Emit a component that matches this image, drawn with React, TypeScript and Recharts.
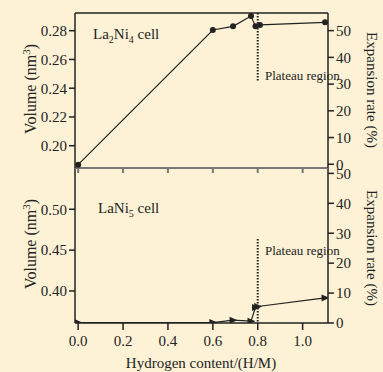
import React from "react";
import { LineChart, Line, XAxis, YAxis, ReferenceLine } from "recharts";

// hydrogen content (H/M) and cell volume (nm^3)
const hydrogenLa2Ni4 = [0, 0.6, 0.69, 0.77, 0.79, 0.81, 1.1];
const volumeLa2Ni4 = [0.1868, 0.2805, 0.283, 0.2902, 0.283, 0.284, 0.2858];

const hydrogenLaNi5 = [0, 0.6, 0.69, 0.77, 0.79, 0.8, 1.1];
const volumeLaNi5 = [0.3612, 0.3613, 0.3643, 0.363, 0.3797, 0.381, 0.3915];

const xTicks = [0, 0.2, 0.4, 0.6, 0.8, 1.0];
const topVolumeTicks = [0.2, 0.22, 0.24, 0.26, 0.28];
const bottomVolumeTicks = [0.4, 0.45, 0.5];
const rateTicks = [0, 10, 20, 30, 40, 50];

const plateauX = 0.8;

const la2ni4Data = hydrogenLa2Ni4.map((h, i) => ({ h, v: volumeLa2Ni4[i] }));
const lani5Data = hydrogenLaNi5.map((h, i) => ({ h, v: volumeLaNi5[i] }));

const INK = "#222";
const BG = "#fdf2d6";
const FONT = "'Liberation Serif', 'DejaVu Serif', serif";

const X_DOMAIN = [-0.014, 1.113];
const TOP_VOL = [0.1845, 0.2923];
const TOP_RATE = [-1.4, 56.6];
const BOT_VOL = [0.3608, 0.5505];
const BOT_RATE = [0, 51.8];

const tickStyle = { fill: INK, fontSize: 15, fontFamily: FONT };

const Circle = (props: any) => {
  const { cx, cy, index } = props;
  return <circle key={`c-${index}`} cx={cx} cy={cy} r={3} fill={INK} />;
};

const Arrow = (props: any) => {
  const { cx, cy, index } = props;
  return (
    <polygon
      key={`t-${index}`}
      points={`${cx - 3.5},${cy - 3.5} ${cx + 4.5},${cy} ${cx - 3.5},${cy + 3.5}`}
      fill={INK}
    />
  );
};

const abs = (left: number, top: number, extra: any = {}) => ({
  position: "absolute" as const,
  left,
  top,
  fontFamily: FONT,
  color: INK,
  whiteSpace: "nowrap" as const,
  lineHeight: 1,
  ...extra,
});

export default function App() {
  return (
    <div
      style={{
        position: "absolute",
        left: 0,
        top: 0,
        width: 383,
        height: 372,
        background: BG,
        overflow: "hidden",
      }}
    >
      {/* bottom panel: LaNi5 */}
      <div style={{ position: "absolute", left: 0, top: 0 }}>
        <LineChart
          width={383}
          height={372}
          data={lani5Data}
          margin={{ top: 168, right: 15, bottom: 0, left: 20 }}
        >
          <XAxis
            dataKey="h"
            type="number"
            domain={X_DOMAIN}
            allowDataOverflow
            ticks={xTicks}
            tickFormatter={(v: number) => v.toFixed(1)}
            tick={tickStyle}
            tickSize={7}
            tickMargin={5}
            height={49}
            stroke={INK}
            strokeWidth={1.5}
          />
          <YAxis
            yAxisId="vol"
            type="number"
            domain={BOT_VOL}
            allowDataOverflow
            ticks={bottomVolumeTicks}
            tickFormatter={(v: number) => v.toFixed(2)}
            tick={tickStyle}
            tickSize={6}
            tickMargin={2}
            width={55}
            stroke={INK}
            strokeWidth={1.5}
          />
          <YAxis
            yAxisId="rate"
            orientation="right"
            type="number"
            domain={BOT_RATE}
            allowDataOverflow
            ticks={rateTicks}
            tick={tickStyle}
            tickSize={6}
            tickMargin={2}
            width={40}
            stroke={INK}
            strokeWidth={1.5}
          />
          <ReferenceLine
            yAxisId="vol"
            segment={[
              { x: plateauX, y: 0.4636 },
              { x: plateauX, y: BOT_VOL[0] },
            ]}
            stroke={INK}
            strokeWidth={2}
            strokeDasharray="1.5 1.5"
          />
          <Line
            yAxisId="vol"
            dataKey="v"
            stroke={INK}
            strokeWidth={1.2}
            dot={Arrow}
            activeDot={false}
            isAnimationActive={false}
          />
        </LineChart>
      </div>

      {/* top panel: La2Ni4 */}
      <div style={{ position: "absolute", left: 0, top: 0 }}>
        <LineChart
          width={383}
          height={190}
          data={la2ni4Data}
          margin={{ top: 13, right: 15, bottom: 0, left: 20 }}
        >
          <XAxis
            dataKey="h"
            type="number"
            domain={X_DOMAIN}
            allowDataOverflow
            ticks={xTicks}
            tickFormatter={() => ""}
            tickSize={5}
            height={22}
            stroke="#777"
            strokeWidth={2}
          />
          <YAxis
            yAxisId="vol"
            type="number"
            domain={TOP_VOL}
            allowDataOverflow
            ticks={topVolumeTicks}
            tickFormatter={(v: number) => v.toFixed(2)}
            tick={tickStyle}
            tickSize={6}
            tickMargin={2}
            width={55}
            stroke={INK}
            strokeWidth={1.5}
          />
          <YAxis
            yAxisId="rate"
            orientation="right"
            type="number"
            domain={TOP_RATE}
            allowDataOverflow
            ticks={rateTicks}
            tick={tickStyle}
            tickSize={6}
            tickMargin={2}
            width={40}
            stroke={INK}
            strokeWidth={1.5}
          />
          <ReferenceLine yAxisId="vol" y={TOP_VOL[1]} stroke={INK} strokeWidth={1.5} />
          <ReferenceLine
            yAxisId="vol"
            segment={[
              { x: plateauX, y: TOP_VOL[1] },
              { x: plateauX, y: 0.2443 },
            ]}
            stroke={INK}
            strokeWidth={2}
            strokeDasharray="1.5 1.5"
          />
          <Line
            yAxisId="vol"
            dataKey="v"
            stroke={INK}
            strokeWidth={1.2}
            dot={Circle}
            activeDot={false}
            isAnimationActive={false}
          />
        </LineChart>
      </div>

      {/* text overlays */}
      <div style={abs(93, 27, { fontSize: 15 })}>
        La<sub style={{ fontSize: 10 }}>2</sub>Ni<sub style={{ fontSize: 10 }}>4</sub> cell
      </div>
      <div style={abs(98, 201, { fontSize: 15 })}>
        LaNi<sub style={{ fontSize: 10 }}>5</sub> cell
      </div>
      <div style={abs(265, 69, { fontSize: 13 })}>Plateau region</div>
      <div style={abs(265, 244, { fontSize: 13 })}>Plateau region</div>

      <div
        style={abs(30, 89, {
          fontSize: 16,
          transform: "translate(-50%, -50%) rotate(-90deg)",
        })}
      >
        Volume (nm<sup style={{ fontSize: 11 }}>3</sup>)
      </div>
      <div
        style={abs(30, 244, {
          fontSize: 16,
          transform: "translate(-50%, -50%) rotate(-90deg)",
        })}
      >
        Volume (nm<sup style={{ fontSize: 11 }}>3</sup>)
      </div>
      <div
        style={abs(371, 90, {
          fontSize: 15,
          transform: "translate(-50%, -50%) rotate(90deg)",
        })}
      >
        Expansion rate (%)
      </div>
      <div
        style={abs(371, 248, {
          fontSize: 15,
          transform: "translate(-50%, -50%) rotate(90deg)",
        })}
      >
        Expansion rate (%)
      </div>
      <div
        style={abs(201, 363, {
          fontSize: 15,
          transform: "translate(-50%, -50%)",
        })}
      >
        Hydrogen content/(H/M)
      </div>
    </div>
  );
}
